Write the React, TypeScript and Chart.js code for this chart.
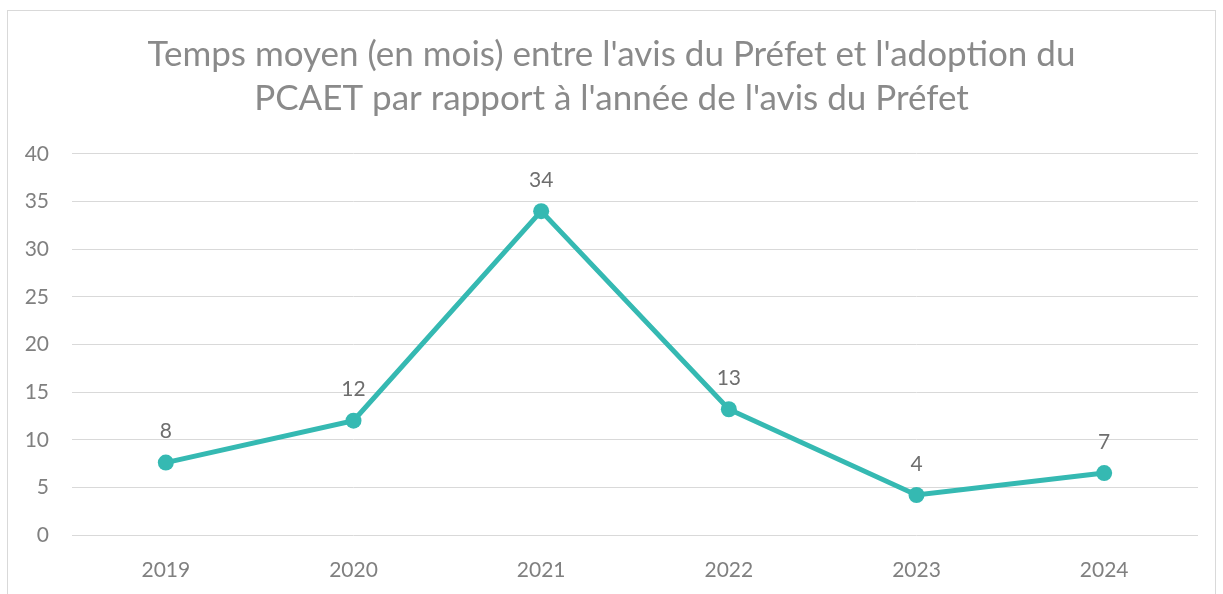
import React, { useEffect, useRef } from "react";
import { Chart, registerables } from "chart.js";

Chart.register(...registerables);

const titleLines = [
  "Temps moyen (en mois) entre l'avis du Préfet et l'adoption du",
  "PCAET par rapport à l'année de l'avis du Préfet",
];
const years = ["2019", "2020", "2021", "2022", "2023", "2024"];
const months = [7.6, 12.0, 34.0, 13.2, 4.2, 6.5];
const yTicks = [0, 5, 10, 15, 20, 25, 30, 35, 40];

const FONT = "Lato, 'Open Sans', sans-serif";
const TEAL = "#35b9b2";

const labelPlugin = {
  id: "pointLabels",
  afterDatasetsDraw(chart: any) {
    const ctx = chart.ctx;
    const meta = chart.getDatasetMeta(0);
    ctx.save();
    ctx.font = `21px ${FONT}`;
    ctx.fillStyle = "#6e6e6e";
    ctx.textAlign = "center";
    ctx.textBaseline = "middle";
    meta.data.forEach((pt: any, i: number) => {
      ctx.fillText(String(Math.round(months[i])), pt.x, pt.y - 31);
    });
    ctx.restore();
  },
};

export default function App() {
  const ref = useRef<HTMLCanvasElement>(null);
  useEffect(() => {
    if (!ref.current) return;
    const chart = new Chart(ref.current, {
      type: "line",
      data: {
        labels: years,
        datasets: [
          {
            data: months,
            borderColor: TEAL,
            backgroundColor: TEAL,
            borderWidth: 5,
            pointRadius: 8,
            pointHoverRadius: 8,
            pointBackgroundColor: TEAL,
            pointBorderColor: TEAL,
            pointBorderWidth: 0,
            tension: 0,
          },
        ],
      },
      options: {
        animation: false,
        responsive: false,
        maintainAspectRatio: false,
        layout: { padding: { top: 0, left: 25, right: 25, bottom: 12 } },
        plugins: {
          legend: { display: false },
          tooltip: { enabled: false },
          title: {
            display: true,
            text: titleLines,
            color: "#8a8a8a",
            font: { family: FONT, size: 35, weight: "normal", lineHeight: 1.257 },
            padding: { top: 33, bottom: 33 },
          },
        },
        scales: {
          x: {
            offset: true,
            grid: { display: false, drawTicks: false },
            border: { display: false },
            afterFit(axis: any) {
              axis.height = 47;
            },
            ticks: {
              color: "#808080",
              font: { family: FONT, size: 21 },
              padding: 23,
            },
          },
          y: {
            min: 0,
            max: 40,
            afterBuildTicks(axis: any) {
              axis.ticks = yTicks.map((v) => ({ value: v }));
            },
            afterFit(axis: any) {
              axis.width = 47;
            },
            grid: { color: "#d9d9d9", lineWidth: 1, drawTicks: false },
            border: { display: false },
            ticks: {
              color: "#808080",
              font: { family: FONT, size: 21 },
              padding: 23,
            },
          },
        },
      },
      plugins: [labelPlugin],
    });
    return () => chart.destroy();
  }, []);

  return (
    <div style={{ position: "fixed", left: 0, top: 0, width: 1223, height: 594, background: "#fff", overflow: "hidden" }}>
      <div
        style={{
          position: "absolute",
          left: 7,
          top: 10,
          width: 1209,
          height: 600,
          border: "1px solid #d9d9d9",
          boxSizing: "border-box",
        }}
      />
      <canvas ref={ref} width={1223} height={594} style={{ position: "absolute", left: 0, top: 0 }} />
    </div>
  );
}
